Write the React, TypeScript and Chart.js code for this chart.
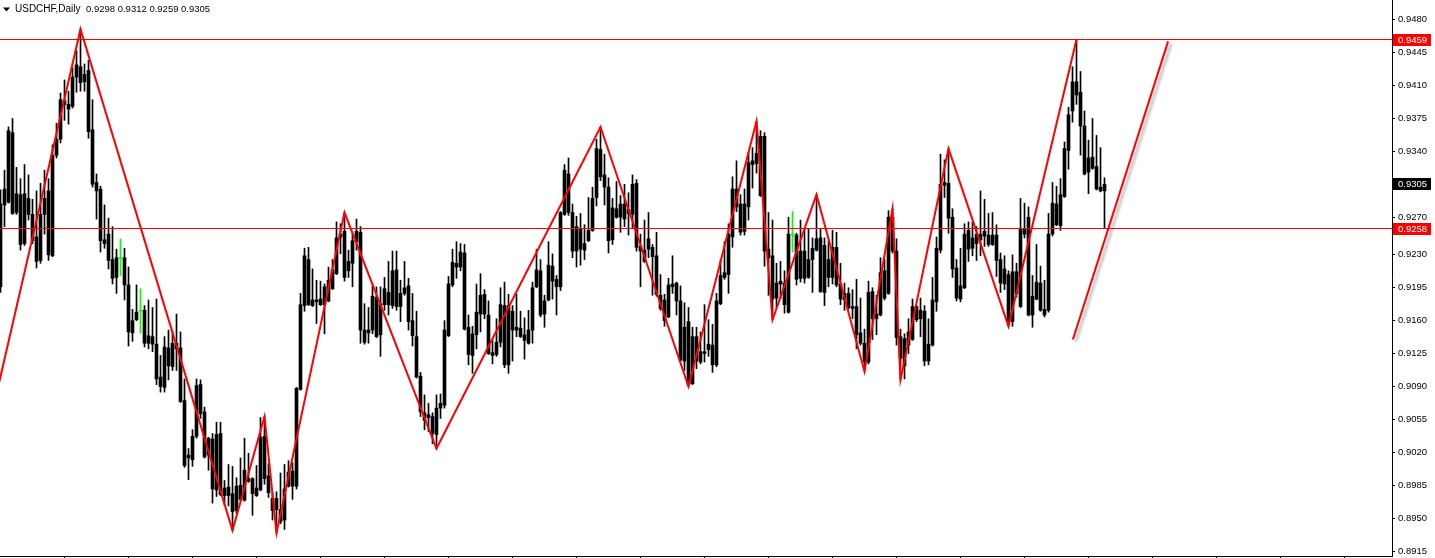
import React, { useEffect, useRef } from "react";
import { Chart, registerables } from "chart.js";

Chart.register(...registerables);

// Symbol / timeframe shown in the header
const symbolLabel = "USDCHF,Daily";
// prices are stored in points (1 point = 0.0001)
const PIP = 10000;

const opens = [
  9196, 9283, 9362, 9360, 9295, 9241, 9242, 9290, 9273, 9223,
  9224, 9290, 9230, 9229, 9336, 9353, 9394, 9385, 9388, 9432,
  9430, 9422, 9426, 9363, 9307, 9300, 9246, 9252, 9205, 9206,
  9226, 9227, 9198, 9147, 9161, 9170, 9171, 9144, 9143, 9135,
  9090, 9089, 9112, 9111, 9136, 9131, 9075, 9014, 9012, 9037,
  9092, 9063, 9035, 8981, 9039, 9040, 8982, 8983, 8957, 8958,
  8970, 8969, 8992, 8992, 8974, 8980, 9037, 8995, 8958, 8971,
  8946, 8948, 8984, 8984, 8984, 9087, 9176, 9225, 9176, 9182,
  9177, 9177, 9181, 9194, 9210, 9252, 9255, 9213, 9221, 9255,
  9254, 9150, 9147, 9186, 9185, 9145, 9177, 9177, 9176, 9214,
  9175, 9195, 9197, 9160, 9143, 9101, 9062, 9060, 9040, 9039,
  9067, 9070, 9144, 9198, 9217, 9233, 9232, 9153, 9123, 9145,
  9167, 9188, 9166, 9123, 9124, 9177, 9176, 9113, 9170, 9153,
  9152, 9139, 9136, 9150, 9214, 9213, 9167, 9182, 9218, 9196,
  9196, 9320, 9316, 9275, 9234, 9258, 9235, 9245, 9256, 9291,
  9342, 9315, 9302, 9246, 9270, 9284, 9268, 9274, 9305, 9306,
  9239, 9223, 9247, 9238, 9229, 9187, 9160, 9164, 9199, 9200,
  9181, 9153, 9092, 9093, 9143, 9116, 9125, 9135, 9113, 9113,
  9178, 9206, 9209, 9249, 9300, 9254, 9255, 9281, 9326, 9338,
  9356, 9356, 9236, 9229, 9184, 9202, 9177, 9169, 9251, 9251,
  9234, 9234, 9206, 9225, 9247, 9248, 9190, 9206, 9238, 9238,
  9199, 9189, 9189, 9175, 9175, 9147, 9116, 9116, 9162, 9162,
  9166, 9184, 9189, 9270, 9234, 9143, 9112, 9134, 9140, 9175,
  9171, 9170, 9117, 9134, 9180, 9235, 9307, 9306, 9270, 9216,
  9183, 9195, 9236, 9237, 9242, 9246, 9255, 9251, 9251, 9251,
  9225, 9215, 9160, 9159, 9189, 9175, 9258, 9270, 9166, 9201,
  9200, 9166, 9171, 9252, 9262, 9261, 9292, 9341, 9383, 9414,
  9403, 9367, 9318, 9334, 9324, 9302, 9298,
];

const highs = [
  9299, 9320, 9366, 9375, 9323, 9311, 9326, 9315, 9289, 9298,
  9306, 9320, 9311, 9347, 9370, 9402, 9416, 9404, 9429, 9447,
  9470, 9433, 9437, 9395, 9316, 9303, 9283, 9269, 9260, 9236,
  9247, 9237, 9217, 9172, 9198, 9194, 9176, 9182, 9174, 9183,
  9123, 9143, 9150, 9148, 9167, 9148, 9098, 9024, 9044, 9098,
  9097, 9068, 9036, 9040, 9052, 9052, 8990, 9007, 9005, 8993,
  9014, 9035, 9019, 8993, 9006, 9057, 9058, 9008, 8977, 8978,
  8998, 9007, 9011, 9009, 9089, 9189, 9237, 9238, 9215, 9203,
  9202, 9199, 9217, 9225, 9265, 9263, 9275, 9235, 9253, 9268,
  9260, 9178, 9174, 9197, 9196, 9196, 9206, 9223, 9234, 9234,
  9203, 9223, 9205, 9189, 9170, 9105, 9081, 9072, 9062, 9081,
  9082, 9160, 9207, 9236, 9244, 9242, 9241, 9166, 9154, 9199,
  9210, 9193, 9181, 9139, 9162, 9195, 9201, 9188, 9176, 9188,
  9170, 9163, 9171, 9201, 9236, 9225, 9187, 9244, 9231, 9208,
  9276, 9326, 9333, 9284, 9271, 9274, 9262, 9291, 9302, 9353,
  9366, 9337, 9312, 9290, 9308, 9293, 9305, 9296, 9315, 9310,
  9252, 9267, 9275, 9241, 9254, 9209, 9188, 9205, 9229, 9201,
  9197, 9179, 9174, 9153, 9153, 9148, 9177, 9161, 9156, 9189,
  9224, 9244, 9263, 9313, 9330, 9294, 9300, 9339, 9344, 9372,
  9362, 9360, 9275, 9267, 9221, 9223, 9213, 9270, 9276, 9253,
  9267, 9257, 9258, 9248, 9294, 9258, 9248, 9245, 9256, 9254,
  9221, 9200, 9195, 9193, 9204, 9184, 9151, 9202, 9195, 9187,
  9227, 9225, 9277, 9279, 9247, 9151, 9146, 9162, 9183, 9176,
  9184, 9176, 9162, 9206, 9249, 9337, 9331, 9343, 9279, 9225,
  9237, 9263, 9265, 9265, 9260, 9298, 9289, 9274, 9275, 9262,
  9232, 9229, 9213, 9230, 9221, 9290, 9285, 9281, 9208, 9241,
  9218, 9203, 9274, 9307, 9303, 9311, 9350, 9387, 9430, 9459,
  9425, 9383, 9352, 9375, 9357, 9344, 9312,
];

const lows = [
  9190, 9260, 9285, 9273, 9273, 9235, 9240, 9267, 9242, 9216,
  9221, 9252, 9224, 9228, 9333, 9349, 9373, 9369, 9386, 9403,
  9404, 9404, 9354, 9302, 9268, 9233, 9237, 9215, 9199, 9189,
  9208, 9182, 9133, 9138, 9160, 9147, 9132, 9130, 9127, 9092,
  9084, 9084, 9097, 9107, 9107, 9073, 9004, 8991, 9005, 9035,
  9056, 9014, 9001, 8966, 8973, 8974, 8964, 8963, 8937, 8955,
  8969, 8968, 8988, 8953, 8973, 8979, 8986, 8972, 8948, 8934,
  8944, 8938, 8983, 8970, 8981, 9086, 9170, 9176, 9175, 9157,
  9176, 9146, 9180, 9193, 9209, 9231, 9202, 9206, 9196, 9235,
  9136, 9135, 9136, 9146, 9142, 9122, 9171, 9166, 9173, 9171,
  9159, 9187, 9150, 9133, 9099, 9058, 9044, 9042, 9029, 9024,
  9056, 9067, 9143, 9196, 9205, 9213, 9150, 9113, 9104, 9130,
  9148, 9162, 9124, 9114, 9122, 9132, 9110, 9104, 9117, 9143,
  9142, 9119, 9135, 9136, 9195, 9164, 9153, 9181, 9183, 9166,
  9192, 9272, 9272, 9227, 9217, 9219, 9225, 9244, 9255, 9282,
  9309, 9283, 9232, 9241, 9269, 9254, 9260, 9251, 9258, 9234,
  9196, 9222, 9227, 9187, 9186, 9171, 9154, 9163, 9189, 9166,
  9117, 9107, 9090, 9092, 9109, 9114, 9116, 9122, 9105, 9111,
  9177, 9204, 9189, 9238, 9276, 9251, 9251, 9267, 9301, 9317,
  9292, 9218, 9187, 9161, 9174, 9183, 9168, 9168, 9233, 9198,
  9201, 9200, 9205, 9190, 9234, 9190, 9176, 9196, 9199, 9196,
  9177, 9171, 9172, 9162, 9130, 9134, 9106, 9114, 9140, 9145,
  9165, 9182, 9188, 9232, 9134, 9097, 9098, 9125, 9139, 9159,
  9143, 9112, 9113, 9133, 9170, 9232, 9291, 9253, 9206, 9181,
  9180, 9194, 9223, 9229, 9224, 9229, 9239, 9239, 9240, 9207,
  9190, 9193, 9154, 9154, 9185, 9174, 9248, 9165, 9153, 9182,
  9170, 9164, 9169, 9250, 9261, 9256, 9291, 9321, 9371, 9390,
  9336, 9315, 9295, 9321, 9299, 9297, 9259,
];

const closes = [
  9284, 9300, 9286, 9274, 9275, 9294, 9295, 9273, 9245, 9249,
  9273, 9273, 9298, 9336, 9353, 9395, 9390, 9390, 9419, 9419,
  9413, 9414, 9361, 9305, 9298, 9245, 9242, 9224, 9225, 9227,
  9226, 9198, 9148, 9160, 9169, 9170, 9136, 9136, 9135, 9098,
  9100, 9132, 9131, 9136, 9130, 9074, 9006, 9017, 9037, 9091,
  9061, 9015, 9017, 9034, 8980, 8975, 8974, 8974, 8976, 8984,
  8985, 9001, 8989, 8976, 8982, 9036, 8992, 8977, 8971, 8959,
  8959, 8981, 8999, 9000, 9088, 9177, 9229, 9177, 9182, 9180,
  9183, 9196, 9203, 9214, 9248, 9249, 9206, 9223, 9245, 9244,
  9150, 9137, 9150, 9150, 9143, 9178, 9194, 9190, 9213, 9175,
  9189, 9189, 9159, 9144, 9100, 9063, 9054, 9057, 9058, 9067,
  9072, 9150, 9199, 9222, 9221, 9217, 9151, 9124, 9146, 9169,
  9187, 9167, 9125, 9126, 9137, 9137, 9113, 9176, 9150, 9150,
  9143, 9145, 9150, 9195, 9196, 9166, 9181, 9219, 9202, 9204,
  9275, 9273, 9275, 9234, 9260, 9236, 9242, 9256, 9290, 9343,
  9313, 9302, 9245, 9280, 9279, 9270, 9284, 9278, 9273, 9238,
  9234, 9235, 9236, 9228, 9188, 9173, 9182, 9198, 9196, 9181,
  9118, 9117, 9159, 9143, 9117, 9127, 9127, 9129, 9134, 9181,
  9208, 9211, 9252, 9300, 9281, 9284, 9284, 9328, 9330, 9327,
  9293, 9234, 9227, 9183, 9200, 9199, 9200, 9252, 9251, 9204,
  9205, 9205, 9225, 9237, 9235, 9191, 9240, 9225, 9206, 9198,
  9183, 9182, 9174, 9173, 9145, 9136, 9136, 9190, 9191, 9167,
  9211, 9213, 9270, 9234, 9142, 9120, 9141, 9148, 9175, 9161,
  9162, 9117, 9135, 9182, 9237, 9305, 9304, 9269, 9215, 9184,
  9197, 9252, 9256, 9248, 9252, 9252, 9250, 9241, 9241, 9224,
  9200, 9199, 9209, 9212, 9212, 9257, 9252, 9166, 9186, 9183,
  9171, 9172, 9252, 9285, 9284, 9294, 9343, 9379, 9414, 9400,
  9367, 9316, 9333, 9322, 9300, 9298, 9305,
];

// ZigZag indicator vertices (bar index, price in points)
const zigzagIdx = [-1, 20, 58, 66, 69, 86, 109, 150, 172, 189, 193, 204, 216, 223, 225, 237, 252, 269];
const zigzagPrice = [9082, 9470, 8937, 9058, 8934, 9275, 9024, 9366, 9090, 9372, 9161, 9294, 9106, 9279, 9097, 9343, 9154, 9459];

// Horizontal lines
const levelPrices = [9459, 9258];

// Trend line (bar index, price in points)
const trendIdx = [268.1, 291.9];
const trendPrice = [9140, 9457];

// Price scale labels
const yTickPrices = [9480, 9445, 9410, 9375, 9340, 9305, 9270, 9230, 9195, 9160, 9125, 9090, 9055, 9020, 8985, 8950, 8915];

// Scale window
const X_MIN = -0.125;
const X_MAX = 347.875;
const Y_MIN = 0.890971;
const Y_MAX = 0.950101;
const BARS_PER_SEPARATOR = 16;

const FONT_FAMILY = '"Liberation Sans", Arial, sans-serif';

export default function App() {
  const ref = useRef<HTMLCanvasElement | null>(null);

  useEffect(() => {
    const canvas = ref.current;
    if (!canvas) return;
    const idx = opens.map((_, i) => i);
    const isDoji = (i: number) => opens[i] === closes[i];
    const candleColors = idx.map((i) => (isDoji(i) ? "#00FF00" : "#000000"));

    const wickData = idx.map((i) => ({ x: i, y: [lows[i] / PIP, highs[i] / PIP] }));
    const bodyData = idx.map((i) => ({
      x: i,
      y: [Math.min(opens[i], closes[i]) / PIP, Math.max(opens[i], closes[i]) / PIP],
    }));
    const zigzagData = zigzagIdx.map((x, k) => ({ x, y: zigzagPrice[k] / PIP }));
    const trendData = trendIdx.map((x, k) => ({ x, y: trendPrice[k] / PIP }));

    const separatorTicks: number[] = [];
    for (let k = 1; X_MIN + k * BARS_PER_SEPARATOR < X_MAX; k++) {
      separatorTicks.push(X_MIN + k * BARS_PER_SEPARATOR);
    }

    const last = opens.length - 1;
    const headerValues = [opens[last], highs[last], lows[last], closes[last]]
      .map((v) => (v / PIP).toFixed(4))
      .join(" ");

    const priceTags = [
      { p: levelPrices[0], bg: "#FF0000" },
      { p: closes[last], bg: "#000000" },
      { p: levelPrices[1], bg: "#FF0000" },
    ];

    const shadowPlugin = {
      id: "trendShadow",
      beforeDatasetDraw(chart: any, args: any) {
        if (chart.data.datasets[args.index].label === "trend") {
          const ctx = chart.ctx;
          ctx.save();
          ctx.shadowColor = "rgba(0,0,0,0.35)";
          ctx.shadowBlur = 3;
          ctx.shadowOffsetX = 3;
          ctx.shadowOffsetY = 2;
        }
      },
      afterDatasetDraw(chart: any, args: any) {
        if (chart.data.datasets[args.index].label === "trend") {
          chart.ctx.restore();
        }
      },
    };

    const overlayPlugin = {
      id: "mt4Overlay",
      afterDraw(chart: any) {
        const ctx = chart.ctx;
        const ys = chart.scales.y;
        const area = chart.chartArea;
        ctx.save();
        // header
        ctx.fillStyle = "#000";
        ctx.beginPath();
        ctx.moveTo(3, 7.5);
        ctx.lineTo(10, 7.5);
        ctx.lineTo(6.5, 11.5);
        ctx.closePath();
        ctx.fill();
        ctx.textBaseline = "middle";
        ctx.textAlign = "left";
        ctx.font = `10px ${FONT_FAMILY}`;
        ctx.fillText(symbolLabel, 15, 9);
        ctx.font = `9.5px ${FONT_FAMILY}`;
        ctx.fillText(headerValues, 86, 9);
        // price tags on the scale
        priceTags.forEach((t) => {
          const py = Math.round(ys.getPixelForValue(t.p / PIP));
          ctx.fillStyle = t.bg;
          ctx.fillRect(area.right + 1, py - 6, 38, 12);
          ctx.fillStyle = "#FFFFFF";
          ctx.font = `9.5px ${FONT_FAMILY}`;
          ctx.fillText((t.p / PIP).toFixed(4), area.right + 6, py + 0.5);
        });
        ctx.restore();
      },
    };

    const chart = new Chart(canvas, {
      type: "bar",
      data: {
        datasets: [
          {
            type: "line",
            label: "zigzag",
            data: zigzagData,
            borderColor: "#FF0000",
            borderWidth: 2,
            pointRadius: 0,
            tension: 0,
            order: 0,
          } as any,
          ...levelPrices.map((p, k) => ({
            type: "line",
            label: "level" + k,
            data: [
              { x: X_MIN, y: p / PIP },
              { x: X_MAX, y: p / PIP },
            ],
            borderColor: "#FF0000",
            borderWidth: 1,
            pointRadius: 0,
            order: 0,
          })) as any,
          {
            type: "line",
            label: "trend",
            data: trendData,
            borderColor: "#FF0000",
            borderWidth: 2,
            pointRadius: 0,
            order: 0,
          } as any,
          {
            type: "bar",
            label: "body",
            data: bodyData,
            backgroundColor: candleColors,
            borderWidth: 0,
            barThickness: 3,
            minBarLength: 1,
            grouped: false,
            order: 1,
          } as any,
          {
            type: "bar",
            label: "wick",
            data: wickData,
            backgroundColor: candleColors,
            borderWidth: 0,
            barThickness: 1,
            minBarLength: 1,
            grouped: false,
            order: 2,
          } as any,
        ],
      },
      options: {
        responsive: false,
        animation: false,
        devicePixelRatio: 1,
        events: [],
        layout: { padding: 0 },
        plugins: {
          legend: { display: false },
          tooltip: { enabled: false },
          title: { display: false },
        },
        scales: {
          x: {
            type: "linear",
            min: X_MIN,
            max: X_MAX,
            offset: false,
            bounds: "data",
            grid: {
              offset: false,
              drawOnChartArea: false,
              drawTicks: true,
              tickLength: 4,
              color: "#000000",
            },
            border: { display: true, color: "#000000" },
            ticks: { autoSkip: false, maxRotation: 0, callback: () => "" },
            afterBuildTicks: (s: any) => {
              s.ticks = separatorTicks.map((v) => ({ value: v }));
            },
            afterFit: (s: any) => {
              s.height = 24;
              s.paddingLeft = 0;
              s.paddingRight = 0;
            },
          },
          y: {
            type: "linear",
            position: "right",
            min: Y_MIN,
            max: Y_MAX,
            bounds: "data",
            grid: {
              drawOnChartArea: false,
              drawTicks: true,
              tickLength: 3,
              color: "#000000",
            },
            border: { display: true, color: "#000000" },
            ticks: {
              autoSkip: false,
              padding: 3,
              color: "#000000",
              font: { family: FONT_FAMILY, size: 9.5 },
              callback: (v: any) => Number(v).toFixed(4),
            },
            afterBuildTicks: (s: any) => {
              s.ticks = yTickPrices.map((p) => ({ value: p / PIP }));
            },
            afterFit: (s: any) => {
              s.width = 43;
              s.paddingTop = 0;
              s.paddingBottom = 0;
            },
          },
        },
      } as any,
      plugins: [shadowPlugin, overlayPlugin],
    });

    return () => chart.destroy();
  }, []);

  return (
    <div
      style={{
        position: "absolute",
        left: 0,
        top: 0,
        width: 1435,
        height: 558,
        overflow: "hidden",
        background: "#FFFFFF",
      }}
    >
      <canvas ref={ref} width={1435} height={580} style={{ display: "block", width: 1435, height: 580 }} />
    </div>
  );
}
